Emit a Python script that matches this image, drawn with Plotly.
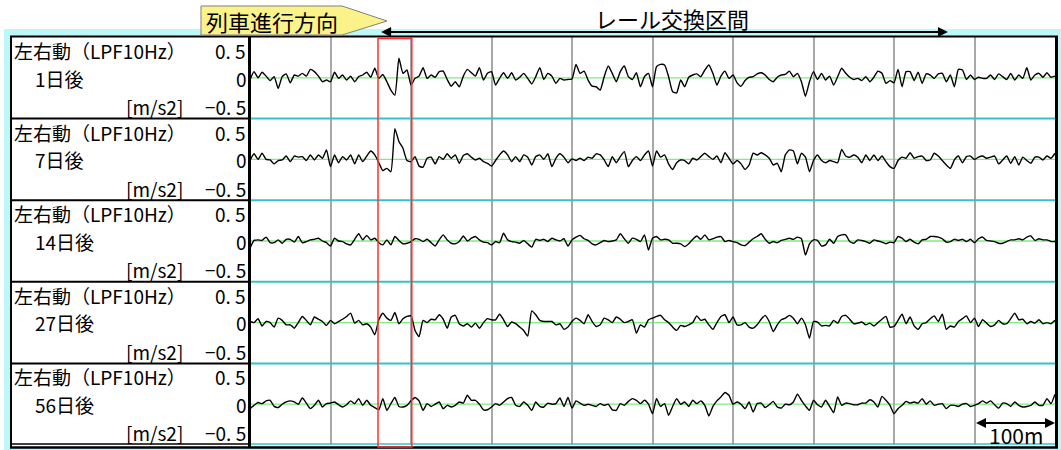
import plotly.graph_objects as go

# ---------------- data ----------------
dist_m = list(range(0, 1001, 5))          # measurement position [m]
row_titles = ["1日後", "7日後", "14日後", "27日後", "56日後"]
channel_label = "左右動（LPF10Hz）"
unit_label = "[m/s2]"
tick_top, tick_mid, tick_bot = "0. 5", "0", "−0. 5"
highlight_m = [159, 201]       # red box
exchange_m = [161, 867]        # rail exchange section arrow
scale_bar_m = [900, 1000]      # 100 m scale bar

day1 = [
    -0.04, 0.11, 0.00, 0.10, 0.03, -0.05, 0.02, -0.19, 0.02, 0.07,
    -0.09, 0.05, 0.03, 0.08, 0.03, 0.15, 0.11, 0.03, -0.07, -0.04,
    -0.07, 0.10, -0.01, 0.05, -0.04, 0.03, -0.07, 0.02, 0.05, 0.10,
    0.01, 0.17, -0.01, 0.06, -0.07, -0.22, -0.31, 0.35, 0.08, 0.14,
    -0.13, -0.01, 0.03, 0.18, -0.01, 0.05, 0.01, 0.11, 0.12, -0.03, -0.15,
    -0.07, -0.16, 0.03, 0.15, 0.09, 0.03, 0.18, -0.04, 0.08, 0.11,
    -0.13, -0.01, 0.09, -0.01, 0.09, -0.04, 0.01, 0.08, -0.01, -0.11,
    0.02, 0.18, -0.03, 0.08, 0.03, -0.10, -0.01, -0.04, -0.03, -0.02,
    0.24, 0.08, 0.12, -0.04, -0.15, -0.16, -0.22, 0.02, 0.21, 0.08,
    -0.07, 0.11, 0.21, 0.02, -0.03, 0.09, -0.16, 0.02, 0.08, -0.16,
    0.20, 0.24, 0.23, 0.02, -0.25, -0.27, -0.04, -0.16, 0.01, 0.05,
    0.07, 0.02, 0.14, 0.23, 0.08, -0.13, 0.03, 0.12, -0.01, 0.05,
    -0.09, -0.15, -0.05, 0.01, 0.02, 0.07, 0.09, 0.05, -0.03, -0.07,
    0.01, 0.05, 0.06, 0.12, 0.02, 0.08, -0.07, -0.33, -0.07, 0.11,
    -0.03, 0.08, -0.04, 0.03, -0.13, 0.02, 0.17, 0.08, 0.01, -0.03,
    -0.01, -0.05, 0.02, -0.07, 0.01, 0.12, 0.08, -0.10, -0.05, -0.09,
    0.15, -0.16, 0.11, 0.11, -0.05, 0.10, -0.10, 0.07, 0.05, -0.01,
    0.07, 0.08, -0.07, 0.05, -0.16, 0.15, 0.14, -0.03, 0.05, -0.03,
    0.01, -0.01, -0.01, 0.05, -0.03, 0.07, 0.02, -0.03, 0.08, -0.04,
    0.05, -0.01, 0.18, -0.04, 0.05, 0.08, 0.01, 0.09, 0.01, 0.03,
]
day7 = [
    -0.02, 0.10, 0.00, 0.11, 0.00, -0.01, -0.08, -0.02, -0.01, 0.06,
    -0.04, 0.06, 0.04, 0.05, -0.02, 0.08, -0.01, 0.08, 0.02, 0.17,
    -0.13, 0.08, -0.06, 0.05, -0.01, 0.08, -0.08, 0.08, -0.04, 0.06,
    0.15, 0.08, -0.06, -0.20, -0.16, -0.22, 0.55, 0.32, 0.20, -0.02,
    -0.04, 0.05, -0.12, -0.14, 0.02, 0.04, -0.08, 0.05, 0.00, 0.10, 0.02,
    0.08, -0.07, 0.07, 0.10, 0.04, -0.01, 0.02, -0.04, -0.07, -0.12,
    -0.02, 0.08, 0.15, 0.08, -0.04, 0.05, -0.04, 0.08, 0.04, -0.10,
    0.05, 0.08, 0.00, 0.10, -0.13, 0.02, 0.10, 0.04, -0.06, 0.01,
    -0.02, 0.02, -0.02, 0.04, 0.02, 0.10, 0.08, -0.01, -0.13, 0.05,
    -0.06, 0.05, 0.14, -0.13, -0.02, 0.05, -0.02, 0.08, 0.15, -0.12,
    0.15, 0.04, 0.08, -0.08, -0.18, -0.06, -0.01, -0.02, -0.08, 0.02,
    -0.01, 0.05, 0.11, 0.05, 0.00, 0.06, -0.06, 0.12, 0.02, -0.08,
    -0.02, -0.08, -0.18, -0.10, 0.11, 0.08, 0.12, 0.08, 0.02, -0.10,
    -0.07, -0.22, 0.08, 0.17, 0.15, -0.08, 0.11, 0.04, -0.22, -0.02,
    0.08, -0.02, -0.06, -0.02, -0.04, -0.06, 0.18, 0.06, 0.04, 0.08,
    0.04, -0.06, 0.08, -0.02, 0.08, -0.02, 0.06, -0.04, -0.13, -0.16,
    -0.02, 0.04, 0.02, 0.12, 0.02, 0.05, 0.06, -0.02, -0.01, 0.11,
    0.06, -0.02, -0.10, -0.16, -0.01, 0.06, -0.06, 0.05, 0.06, 0.00,
    0.04, 0.06, 0.02, 0.04, 0.06, -0.08, -0.01, 0.06, -0.07, 0.05,
    -0.10, 0.04, -0.02, -0.07, 0.04, 0.04, -0.01, 0.06, 0.02, 0.11,
]
day14 = [
    -0.13, 0.01, 0.02, 0.01, 0.07, -0.03, -0.03, 0.02, -0.04, 0.03,
    0.03, -0.02, 0.08, -0.03, -0.01, 0.02, 0.03, 0.05, 0.00, -0.03,
    -0.09, 0.05, 0.00, -0.01, -0.05, -0.07, 0.03, 0.13, 0.02, 0.10,
    0.02, 0.05, -0.03, -0.07, 0.02, -0.07, 0.08, 0.01, -0.05, -0.04,
    -0.01, 0.04, 0.03, -0.01, 0.03, -0.03, -0.09, 0.02, 0.11, 0.02, -0.04,
    -0.05, -0.01, 0.09, 0.00, 0.05, 0.08, 0.02, -0.02, -0.03, -0.07,
    -0.01, -0.03, 0.14, 0.02, -0.01, -0.02, -0.04, 0.01, -0.05, -0.11,
    0.03, 0.01, 0.03, -0.01, 0.05, 0.02, 0.00, 0.04, -0.09, 0.02,
    0.07, 0.10, 0.04, 0.01, -0.05, -0.07, -0.03, 0.01, -0.01, 0.00,
    0.02, 0.13, 0.04, -0.04, 0.05, 0.03, -0.01, 0.11, -0.16, 0.05,
    0.08, 0.02, 0.03, 0.02, -0.04, -0.04, -0.05, -0.10, -0.05, 0.03,
    0.09, 0.03, 0.11, 0.02, 0.04, 0.07, 0.08, -0.01, 0.01, -0.01,
    -0.03, -0.07, -0.08, -0.02, 0.04, 0.08, 0.13, 0.03, -0.04, -0.01,
    -0.03, 0.01, 0.03, 0.05, 0.03, 0.07, 0.04, -0.25, -0.05, 0.02,
    0.01, -0.09, -0.07, 0.03, -0.04, 0.08, 0.11, 0.11, -0.01, -0.04,
    0.02, 0.01, -0.01, -0.04, 0.02, 0.00, -0.02, -0.05, -0.02, -0.03,
    0.08, 0.05, -0.01, 0.03, -0.02, -0.05, 0.02, 0.03, 0.08, 0.08,
    0.07, 0.04, -0.02, -0.01, 0.03, 0.01, 0.03, -0.01, 0.03, -0.03,
    0.04, 0.07, 0.01, 0.00, -0.01, -0.04, -0.04, -0.01, 0.02, 0.02,
    0.04, 0.02, 0.07, 0.09, 0.01, 0.04, 0.02, 0.02, -0.01, -0.01,
]
day27 = [
    0.02, 0.00, 0.07, -0.06, 0.02, 0.00, -0.08, 0.08, 0.04, -0.04,
    -0.04, -0.10, 0.00, 0.11, 0.04, -0.04, 0.10, 0.06, 0.02, -0.05,
    0.04, -0.02, 0.02, 0.06, 0.11, 0.17, -0.01, 0.04, -0.04, -0.02,
    -0.08, -0.22, 0.05, 0.17, 0.08, 0.04, 0.18, -0.02, 0.07, 0.11,
    0.12, -0.14, -0.25, 0.04, 0.00, 0.06, 0.05, 0.14, 0.06, -0.10, 0.10,
    0.13, -0.02, -0.06, -0.02, -0.08, -0.01, -0.10, 0.00, 0.07, 0.05,
    0.05, 0.15, 0.05, -0.07, 0.01, -0.02, -0.08, -0.14, -0.24, 0.21,
    0.14, 0.04, 0.02, 0.02, 0.02, -0.04, -0.02, -0.12, -0.08, 0.02,
    0.08, 0.04, -0.02, 0.14, 0.02, -0.07, -0.04, 0.08, 0.05, 0.00,
    0.10, 0.06, 0.00, 0.02, 0.05, -0.19, -0.04, -0.08, 0.05, 0.08,
    0.11, 0.13, 0.05, 0.00, -0.08, -0.14, -0.05, -0.07, -0.04, 0.00,
    0.12, 0.04, 0.06, -0.04, -0.12, 0.00, 0.11, 0.14, 0.00, 0.10,
    -0.04, -0.04, 0.00, -0.08, -0.10, -0.04, 0.06, 0.13, 0.02, -0.16,
    -0.04, 0.05, 0.08, 0.13, 0.08, -0.02, 0.08, -0.04, -0.28, 0.02,
    0.01, -0.06, -0.05, -0.06, 0.04, -0.01, 0.11, 0.13, 0.06, -0.02,
    -0.01, 0.01, -0.04, -0.01, -0.06, 0.00, 0.06, 0.11, -0.08, -0.07,
    0.04, 0.15, -0.02, 0.10, -0.06, -0.12, -0.02, 0.00, 0.07, 0.12,
    0.02, 0.15, -0.12, -0.06, -0.08, 0.02, 0.07, 0.12, 0.00, 0.08,
    -0.07, 0.05, -0.01, -0.07, -0.04, 0.04, -0.02, -0.02, 0.07, 0.17,
    0.05, 0.06, -0.02, 0.02, -0.01, 0.05, -0.02, 0.00, -0.02, 0.04,
]
day56 = [
    -0.08, -0.02, 0.03, 0.01, 0.06, 0.07, -0.04, -0.06, 0.00, 0.04,
    0.06, 0.04, 0.00, 0.11, 0.02, -0.08, -0.02, 0.07, -0.05, 0.01,
    0.02, 0.04, -0.01, -0.05, -0.01, 0.06, 0.01, 0.10, -0.02, 0.07,
    -0.02, -0.06, -0.10, 0.10, -0.11, 0.01, 0.12, -0.04, -0.05, -0.02,
    0.06, 0.12, 0.06, -0.11, 0.01, -0.04, 0.00, 0.04, -0.08, -0.02, -0.05,
    -0.02, 0.04, 0.02, 0.16, 0.07, 0.07, 0.00, -0.10, -0.10, -0.05,
    0.01, -0.02, 0.04, 0.10, 0.12, -0.02, -0.04, 0.04, -0.02, -0.11,
    0.04, -0.04, -0.05, 0.02, 0.00, 0.01, 0.11, -0.04, 0.12, -0.07,
    0.06, 0.02, -0.02, 0.00, -0.02, -0.04, 0.01, -0.02, 0.00, -0.10,
    -0.11, 0.01, -0.02, 0.05, 0.10, 0.07, 0.01, 0.07, 0.00, -0.17,
    0.10, -0.04, 0.01, -0.20, -0.04, 0.10, 0.00, 0.04, -0.04, 0.07,
    0.01, 0.06, -0.02, -0.21, -0.04, 0.06, 0.13, 0.21, 0.16, 0.00,
    0.04, 0.00, -0.08, 0.04, -0.14, 0.01, 0.02, -0.06, -0.01, 0.05,
    -0.05, -0.07, 0.00, -0.01, 0.04, 0.18, 0.07, -0.03, -0.11, 0.07,
    -0.01, -0.05, 0.07, -0.04, -0.15, 0.13, -0.02, 0.02, 0.01, -0.01,
    -0.01, 0.02, 0.02, 0.08, 0.04, -0.05, 0.14, 0.07, -0.02, -0.17,
    -0.08, -0.02, 0.05, 0.02, 0.04, 0.02, 0.10, 0.00, 0.06, -0.02,
    0.00, 0.01, -0.08, -0.02, -0.02, -0.04, 0.00, 0.01, -0.04, -0.02,
    0.01, 0.06, 0.02, 0.06, -0.01, -0.07, 0.02, 0.01, -0.04, 0.04,
    -0.02, -0.05, -0.04, -0.02, 0.04, -0.02, -0.02, 0.10, 0.01, 0.18,
]
series = [day1, day7, day14, day27, day56]

# ---------------- layout helpers ----------------
W, H = 1061, 450
FONT = "Noto Sans CJK JP"
PLOT_L, PLOT_R = 250, 1055
ROW_TOP, ROW_H = 37, 81.6


def px(x):
    return x / W


def py(y):
    return 1 - y / H


fig = go.Figure()
shapes = []
annotations = []

# background cyan and white frame
shapes.append(dict(type="rect", xref="paper", yref="paper", layer="below",
                   x0=px(4), x1=px(1061), y0=py(450), y1=py(29),
                   fillcolor="#bcf8f8", line=dict(width=0)))
shapes.append(dict(type="rect", xref="paper", yref="paper", layer="below",
                   x0=px(10), x1=px(1056), y0=py(447), y1=py(36),
                   fillcolor="white", line=dict(width=0)))

for i, (vals, title) in enumerate(zip(series, row_titles)):
    n = i + 1
    y0 = ROW_TOP + i * ROW_H
    y1 = y0 + ROW_H
    xa = "xaxis" if n == 1 else f"xaxis{n}"
    ya = "yaxis" if n == 1 else f"yaxis{n}"
    yref = "y" if n == 1 else f"y{n}"
    fig.update_layout(**{
        xa: dict(domain=[px(PLOT_L), px(PLOT_R)], range=[0, 1000], anchor=yref,
                 showgrid=True, gridcolor="#a8a8a8", gridwidth=1.5, dtick=100, tick0=0,
                 showticklabels=False, zeroline=False, showline=False, fixedrange=True),
        ya: dict(domain=[py(y1), py(y0)], range=[-0.73, 0.73], anchor="x" if n == 1 else f"x{n}",
                 showgrid=False, zeroline=False,
                 showticklabels=False, showline=False, fixedrange=True),
    })
    # green zero line
    shapes.append(dict(type="line", xref="paper", yref=yref, layer="below",
                       x0=px(PLOT_L), x1=px(PLOT_R), y0=0, y1=0,
                       line=dict(color="#7eee7e", width=1.3)))
    fig.add_trace(go.Scatter(
        x=dist_m, y=vals, mode="lines",
        xaxis="x" if n == 1 else f"x{n}", yaxis=yref,
        line=dict(color="black", width=1.4, shape="spline", smoothing=0.5),
        hoverinfo="skip", showlegend=False))

    # row labels
    lab = dict(xref="paper", yref="paper", showarrow=False, yanchor="middle", borderpad=0,
               font=dict(family=FONT, size=19, color="black"))
    annotations.append(dict(lab, x=px(13), y=py(y0 + 13.5), text=channel_label, xanchor="left"))
    annotations.append(dict(lab, x=px(247), y=py(y0 + 13.5), text=tick_top, xanchor="right"))
    annotations.append(dict(lab, x=px(34), y=py(y0 + 41), text=title, xanchor="left"))
    annotations.append(dict(lab, x=px(248), y=py(y0 + 41), text=tick_mid, xanchor="right"))
    annotations.append(dict(lab, x=px(184), y=py(y0 + 69.5), text=unit_label, xanchor="right"))
    annotations.append(dict(lab, x=px(247), y=py(y0 + 69.5), text=tick_bot, xanchor="right"))

    # separators
    if i > 0:
        shapes.append(dict(type="line", xref="paper", yref="paper",
                           x0=px(10), x1=px(250), y0=py(y0), y1=py(y0),
                           line=dict(color="black", width=2)))
        shapes.append(dict(type="line", xref="paper", yref="paper",
                           x0=px(250), x1=px(1056), y0=py(y0), y1=py(y0),
                           line=dict(color="#35c4c4", width=2)))

# bottom inner line
shapes.append(dict(type="line", xref="paper", yref="paper",
                   x0=px(10), x1=px(250), y0=py(444), y1=py(444),
                   line=dict(color="black", width=1.5)))
shapes.append(dict(type="line", xref="paper", yref="paper",
                   x0=px(250), x1=px(1056), y0=py(444), y1=py(444),
                   line=dict(color="#35c4c4", width=1.5)))
# frame borders
shapes.append(dict(type="line", xref="paper", yref="paper",
                   x0=px(10), x1=px(1058), y0=py(36.5), y1=py(36.5),
                   line=dict(color="black", width=2)))
shapes.append(dict(type="line", xref="paper", yref="paper",
                   x0=px(10), x1=px(1058), y0=py(447.5), y1=py(447.5),
                   line=dict(color="black", width=2.5)))
shapes.append(dict(type="line", xref="paper", yref="paper",
                   x0=px(11), x1=px(11), y0=py(36), y1=py(448),
                   line=dict(color="black", width=2)))
shapes.append(dict(type="line", xref="paper", yref="paper",
                   x0=px(249.5), x1=px(249.5), y0=py(36), y1=py(448),
                   line=dict(color="black", width=3)))
shapes.append(dict(type="line", xref="paper", yref="paper",
                   x0=px(1056.5), x1=px(1056.5), y0=py(36), y1=py(448),
                   line=dict(color="black", width=3)))

# red highlight box
shapes.append(dict(type="rect", xref="x", yref="paper",
                   x0=highlight_m[0], x1=highlight_m[1], y0=py(447), y1=py(38.5),
                   line=dict(color="#ff3030", width=1.5), fillcolor="rgba(0,0,0,0)"))

# yellow direction pentagon
pts = [(201, 6), (342, 6), (387, 21), (342, 35), (201, 35)]
path = "M " + " L ".join(f"{px(a):.5f},{py(b):.5f}" for a, b in pts) + " Z"
shapes.append(dict(type="path", xref="paper", yref="paper", path=path,
                   fillcolor="#fbf38a", line=dict(color="#808080", width=1)))
annotations.append(dict(xref="paper", yref="paper", x=px(204), y=py(21), xanchor="left",
                        yanchor="middle", showarrow=False, text="列車進行方向",
                        font=dict(family=FONT, size=22, color="black")))

# rail exchange section arrow
annotations.append(dict(xref="x", yref="paper", x=exchange_m[1], y=py(32),
                        axref="x", ayref="pixel", ax=exchange_m[0], ay=0,
                        showarrow=True, arrowside="end+start", arrowhead=2, arrowsize=1,
                        arrowwidth=2, arrowcolor="black", text=""))
annotations.append(dict(xref="paper", yref="paper", x=px(672), y=py(18), xanchor="center",
                        yanchor="middle", showarrow=False, text="レール交換区間",
                        font=dict(family=FONT, size=22, color="black")))

# 100 m scale bar
annotations.append(dict(xref="x5", yref="paper", x=scale_bar_m[1], y=py(423),
                        axref="x5", ayref="pixel", ax=scale_bar_m[0], ay=0,
                        showarrow=True, arrowside="end+start", arrowhead=2, arrowsize=1,
                        arrowwidth=2, arrowcolor="black", text=""))
annotations.append(dict(xref="paper", yref="paper", x=px(1016), y=py(435), xanchor="center",
                        yanchor="middle", showarrow=False, text="100m",
                        font=dict(family=FONT, size=21, color="black")))

fig.update_layout(
    width=W, height=H, margin=dict(l=0, r=0, t=0, b=0),
    paper_bgcolor="white", plot_bgcolor="rgba(0,0,0,0)",
    shapes=shapes, annotations=annotations, showlegend=False,
)

fig.write_html(
    "out.html",
    config={"displayModeBar": False},
    post_script="document.body.style.margin='0';document.body.style.overflow='hidden';",
)
